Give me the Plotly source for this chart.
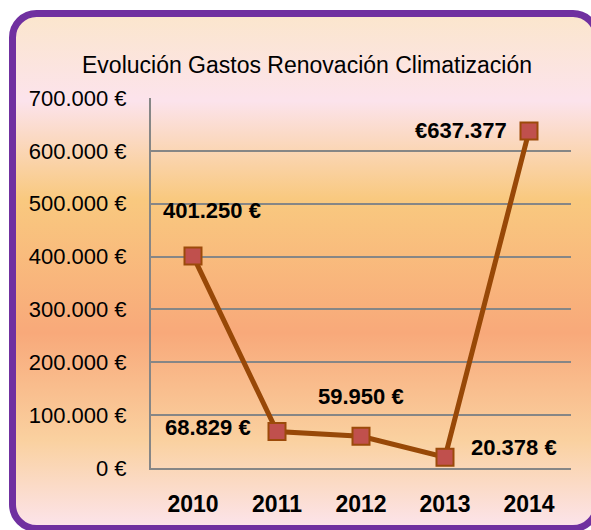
import plotly.graph_objects as go
import base64

# ---- data ----
years = ["2010", "2011", "2012", "2013", "2014"]
gastos = [401250, 68829, 59950, 20378, 637377]
value_labels = ["401.250 €", "68.829 €", "59.950 €", "20.378 €", "€637.377"]
y_tickvals = [0, 100000, 200000, 300000, 400000, 500000, 600000, 700000]
y_ticktext = ["0 €", "100.000 €", "200.000 €", "300.000 €", "400.000 €",
              "500.000 €", "600.000 €", "700.000 €"]
title_text = "Evolución Gastos Renovación Climatización"

# ---- style ----
W, H = 591, 530
ML, MR, MT, MB = 151, 20, 98, 62
PW, PH = W - ML - MR, H - MT - MB
FONT = "Liberation Sans, Arial, sans-serif"
label_shifts = [(19, 45), (-69, 4), (0, 40), (69, 10), (-68, 1)]

svg = f'''<svg xmlns="http://www.w3.org/2000/svg" width="{W}" height="{H}" viewBox="0 0 {W} {H}">
<defs><linearGradient id="g" x1="0" y1="0" x2="0" y2="1">
<stop offset="0" stop-color="#FBE6CC"/>
<stop offset="0.17" stop-color="#FCE3EC"/>
<stop offset="0.36" stop-color="#F9C97F"/>
<stop offset="0.62" stop-color="#F8A97A"/>
<stop offset="0.83" stop-color="#FAD1A0"/>
<stop offset="1" stop-color="#FCE4EC"/>
</linearGradient></defs>
<rect x="12.5" y="13.5" width="584.5" height="515" rx="24" ry="24" fill="url(#g)" stroke="#7030A0" stroke-width="7"/>
</svg>'''
src = "data:image/svg+xml;base64," + base64.b64encode(svg.encode()).decode()

def px2x(px):
    return (px - ML) / PW

def px2y(py):
    return (H - MB - py) / PH

fig = go.Figure()
fig.add_trace(go.Scatter(
    x=years, y=gastos, mode="lines+markers",
    line=dict(color="#984807", width=5),
    marker=dict(symbol="square", size=17, color="#C0504D",
                line=dict(color="#9C4A0A", width=2)),
    hoverinfo="skip", showlegend=False,
))

for i, (v, t, (dx, dy)) in enumerate(zip(gastos, value_labels, label_shifts)):
    fig.add_annotation(x=i, y=v, xref="x", yref="y", text=f"<b>{t}</b>",
                       showarrow=False, xshift=dx, yshift=dy,
                       font=dict(family=FONT, size=22, color="#000000"))

fig.add_annotation(x=px2x(307), y=px2y(50), xref="paper", yref="paper",
                   text=title_text, showarrow=False,
                   font=dict(family=FONT, size=23, color="#000000"))

fig.add_layout_image(dict(source=src, xref="paper", yref="paper",
                          x=px2x(0), y=px2y(0), sizex=W / PW, sizey=H / PH,
                          xanchor="left", yanchor="top", sizing="stretch",
                          layer="below"))

fig.update_layout(
    width=W, height=H,
    margin=dict(l=ML, r=MR, t=MT, b=MB),
    paper_bgcolor="white", plot_bgcolor="rgba(0,0,0,0)",
    showlegend=False,
    xaxis=dict(type="category", range=[-0.5, 4.5], showgrid=False,
               showline=True, linecolor="#868686", linewidth=2,
               ticks="", ticklabelstandoff=14,
               tickfont=dict(family=FONT, size=23, color="#000000", weight="bold")),
    yaxis=dict(range=[0, 700000], tickvals=y_tickvals, ticktext=y_ticktext,
               showgrid=True, gridcolor="#868686", gridwidth=1.5,
               showline=True, linecolor="#868686", linewidth=2,
               zeroline=False, ticks="", ticklabelstandoff=18,
               tickfont=dict(family=FONT, size=22, color="#000000")),
)

fig.write_html("out.html", config={"displayModeBar": False},
               post_script="document.body.style.margin='0';document.body.style.overflow='hidden';")
